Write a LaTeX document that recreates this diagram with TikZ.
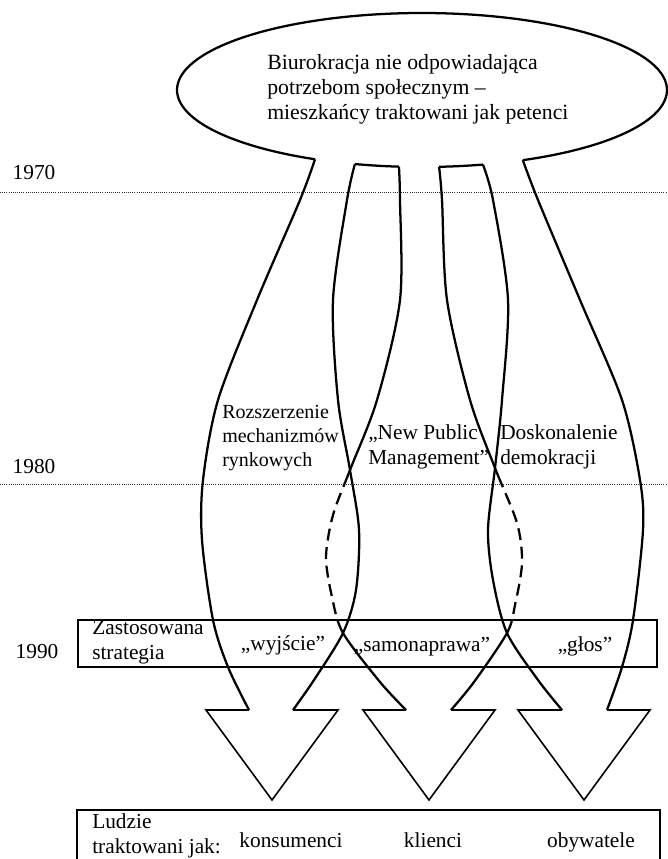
\documentclass[tikz,border=0pt]{standalone}
\usepackage{fontspec}
\setmainfont{Liberation Serif}
\usetikzlibrary{calc}

\begin{document}
\begin{tikzpicture}[x=0.75pt,y=-0.75pt,
    curve/.style={line width=1.7pt},
    head/.style={line width=1.2pt,line join=miter},
    frame/.style={line width=1.5pt},
    epoch/.style={line width=0.6pt,dash pattern=on 0.7pt off 0.9pt,black!80},
    txt/.style={font=\fontsize{16}{18.5}\selectfont,inner sep=0pt}]
\useasboundingbox (0,0) rectangle (667,859);

% epochs
\draw[epoch] (0,192) -- (667,192);
\draw[epoch] (0,484) -- (667,484);
\node[txt,anchor=base] (y70) at (34,180) {1970};
\node[txt,anchor=base] (y80) at (34,473) {1980};
\node[txt,anchor=base] (y90) at (37,658) {1990};

% bureaucracy bubble with the three openings
\draw[curve] plot[domain=115.9:425.7,samples=120,smooth] ({422+245*cos(\x)},{90+77*sin(\x)});
\draw[curve] plot[domain=105.9:95.4,samples=8] ({422+245*cos(\x)},{90+77*sin(\x)});
\draw[curve] plot[domain=86:75.6,samples=8] ({422+245*cos(\x)},{90+77*sin(\x)});
\node[txt,font=\fontsize{16.3}{18.8}\selectfont,align=left,anchor=west] (bureau) at (267,89)
    {Biurokracja nie odpowiadająca\\potrzebom społecznym –\\mieszkańcy traktowani jak petenci};

\foreach \n/\a in {A/115.9,B/105.9,C/95.4,D/86,E/75.6,F/65.7}
    \coordinate (ex\n) at ({422+245*cos(\a)},{90+77*sin(\a)});
\foreach \n/\x in {A/249,B/293,C/406,D/451,E/562,F/607}
    \coordinate (sh\n) at (\x,710);

% the six shaft lines
\draw[curve] plot[smooth] coordinates {(exA) (300,200) (257,300) (218,400) (203,480) (202,540) (213,620) (228,667) (shA)};
\draw[curve] plot[smooth] coordinates {(exB) (347,200) (333,300) (338,400) (350,470) (359,530) (356,590) (343,633) (314,680) (shB)};
\draw[curve] plot[smooth] coordinates {(exE) (493,200) (508,300) (502,400) (495,468) (488,530) (493,580) (507,633) (538,680) (shE)};
\draw[curve] plot[smooth] coordinates {(exF) (538,200) (580,300) (622,400) (640,480) (643,530) (633,620) (622,667) (shF)};
\def\lineC{plot[smooth] coordinates {(exC) (400,200) (400,300) (377,400) (350,470) (333,515) (326,557) (332,597) (343,633) (380,682) (shC)}}
\def\lineD{plot[smooth] coordinates {(exD) (442,200) (447,300) (470,400) (495,468) (517,523) (522,563) (515,605) (507,633) (474,682) (shD)}}
\begin{scope}
    \clip (0,0) rectangle (667,477) (0,619) rectangle (667,859);
    \draw[curve] \lineC;
    \draw[curve] \lineD;
\end{scope}
\begin{scope}
    \clip (0,477) rectangle (667,619);
    \draw[curve,dash pattern=on 9pt off 5pt] \lineC;
    \draw[curve,dash pattern=on 9pt off 5pt] \lineD;
\end{scope}

% arrow heads
\foreach \c/\l/\r in {272/A/B,429/C/D,584/E/F}
    \draw[head] (sh\l) -- (\c-66,710) -- (\c,800) -- (\c+66,710) -- (sh\r);

% labels of the three ways
\node[txt,font=\fontsize{15}{17.8}\selectfont,align=left,anchor=west] (market) at (222,438) {Rozszerzenie\\mechanizmów\\rynkowych};
\node[txt,align=left,anchor=west] (npm) at (368,447) {„New Public\\Management”};
\node[txt,align=left,anchor=west] (democracy) at (500,447) {Doskonalenie\\demokracji};

% strategy row
\draw[frame] (78,620) rectangle (657,667);
\node[txt,align=left,anchor=west] (strategy) at (92,642) {Zastosowana\\strategia};
\node[txt,anchor=base] (exit) at (283,650) {„wyjście”};
\node[txt,anchor=base] (repair) at (422,651) {„samonaprawa”};
\node[txt,anchor=base] (voice) at (585,651) {„głos”};

% people row
\draw[frame] (77,859) -- (77,810) -- (660,810) -- (660,859);
\node[txt,align=left,anchor=west] (people) at (92,836) {Ludzie\\traktowani jak:};
\node[txt,anchor=base] (consumers) at (291,847) {konsumenci};
\node[txt,anchor=base] (clients) at (433,847) {klienci};
\node[txt,anchor=base] (citizens) at (591,847) {obywatele};
\end{tikzpicture}
\end{document}
